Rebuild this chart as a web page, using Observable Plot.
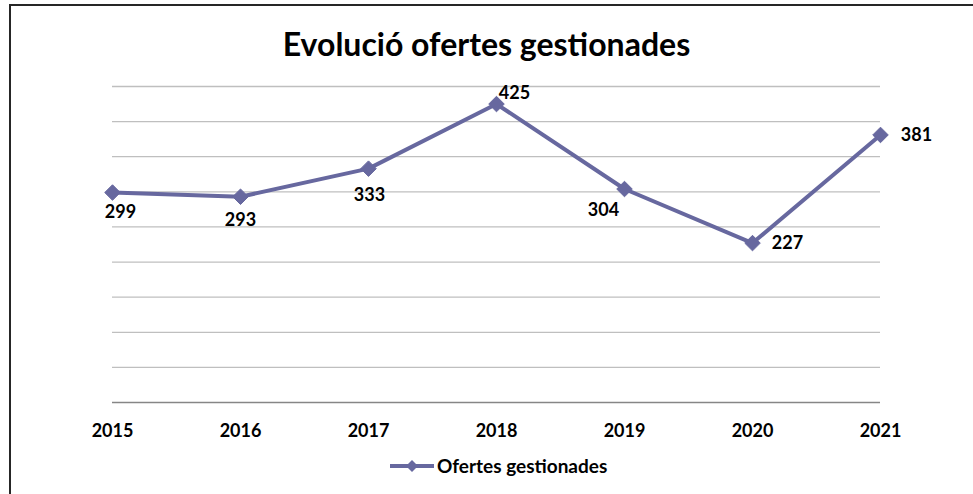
<!DOCTYPE html>
<html>
<head>
<meta charset="utf-8">
<script src="https://cdn.jsdelivr.net/npm/d3@7"></script>
<script src="https://cdn.jsdelivr.net/npm/@observablehq/plot@0.6"></script>
<style>
  html, body { margin: 0; padding: 0; background: #fff; }
  body { width: 973px; height: 494px; position: relative; overflow: hidden; font-family: Lato, "Open Sans", sans-serif; }
  #frame { position: absolute; left: 9px; top: 4px; width: 1200px; height: 800px; border-top: 2px solid #262626; border-left: 2px solid #262626; box-sizing: border-box; pointer-events: none; }
  #title { height: 70px; text-align: center; font-weight: 700; font-size: 32px; color: #000; position: relative; }
  #title span { position: absolute; left: 0; right: 0; top: 28px; line-height: 1; }
  #legend { position: absolute; top: 454px; left: 390px; display: flex; align-items: center; font-weight: 700; font-size: 19px; color: #000; }
  #legend svg { margin-right: 3px; }
</style>
</head>
<body>
<div id="frame"></div>
<div id="title"><span>Evolució ofertes gestionades</span></div>
<div id="chart"></div>
<div id="legend"></div>
<script>
const years = ["2015", "2016", "2017", "2018", "2019", "2020", "2021"];
const values = [299, 293, 333, 425, 304, 227, 381];
const seriesName = "Ofertes gestionades";
const gridTicks = [50, 100, 150, 200, 250, 300, 350, 400, 450];

const color = "#67689f";
const data = years.map((y, i) => ({year: y, value: values[i]}));

// label placement offsets (dx, dy) per category, as in the reference
const labelOffsets = {
  "2015": [8, 20], "2016": [0, 23], "2017": [1, 27], "2018": [18, -11],
  "2019": [-21, 21], "2020": [35, 0], "2021": [36, 0]
};

const chart = Plot.plot({
  width: 973,
  height: 380,
  marginTop: 16,
  marginBottom: 48,
  marginLeft: 112,
  marginRight: 93,
  style: {fontFamily: "Lato, 'Open Sans', sans-serif", background: "transparent", overflow: "visible"},
  x: {type: "point", domain: years, padding: 0, label: null},
  y: {domain: [0, 450], axis: null},
  marks: [
    Plot.ruleY(gridTicks, {stroke: "#bfbfbf", strokeWidth: 1.3}),
    Plot.ruleY([0], {stroke: "#868686", strokeWidth: 1.5}),
    Plot.axisX({tickSize: 0, tickPadding: 22, fontSize: 18, fontWeight: 700, fill: "#000", label: null}),
    Plot.line(data, {x: "year", y: "value", stroke: color, strokeWidth: 4, strokeLinejoin: "miter"}),
    Plot.dot(data, {x: "year", y: "value", symbol: "diamond2", r: 7, fill: color, stroke: color, strokeWidth: 1}),
    ...years.map(yr => Plot.text(data.filter(d => d.year === yr), {
      x: "year", y: "value", text: d => String(d.value),
      dx: labelOffsets[yr][0], dy: labelOffsets[yr][1],
      fontSize: 18, fontWeight: 700, fill: "#000"
    }))
  ]
});
document.getElementById("chart").appendChild(chart);

// legend
const leg = document.getElementById("legend");
const ns = "http://www.w3.org/2000/svg";
const s = document.createElementNS(ns, "svg");
s.setAttribute("width", 44); s.setAttribute("height", 14);
const ln = document.createElementNS(ns, "line");
ln.setAttribute("x1", 0); ln.setAttribute("x2", 44); ln.setAttribute("y1", 7); ln.setAttribute("y2", 7);
ln.setAttribute("stroke", color); ln.setAttribute("stroke-width", 4);
s.appendChild(ln);
const dm = document.createElementNS(ns, "path");
dm.setAttribute("d", "M22,1 L28,7 L22,13 L16,7 Z"); dm.setAttribute("fill", color);
s.appendChild(dm);
leg.appendChild(s);
const t = document.createElement("span"); t.textContent = seriesName; leg.appendChild(t);
</script>
</body>
</html>
